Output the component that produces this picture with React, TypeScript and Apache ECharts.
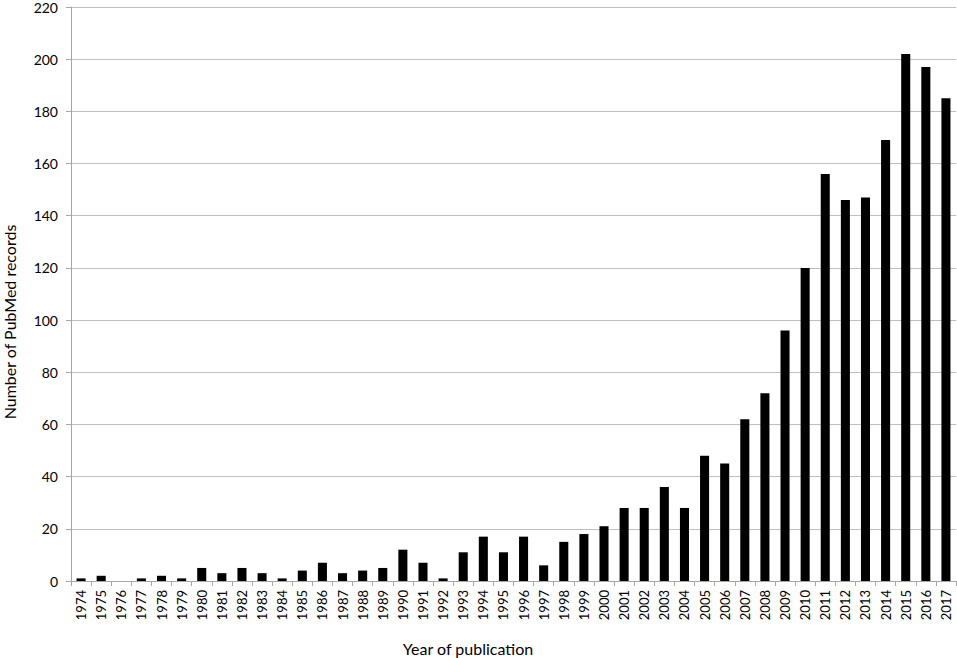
import React, { useEffect, useRef } from "react";
import * as echarts from "echarts";

const years = [
  "1974","1975","1976","1977","1978","1979","1980","1981","1982","1983","1984",
  "1985","1986","1987","1988","1989","1990","1991","1992","1993","1994","1995",
  "1996","1997","1998","1999","2000","2001","2002","2003","2004","2005","2006",
  "2007","2008","2009","2010","2011","2012","2013","2014","2015","2016","2017",
];
const records = [
  1, 2, 0, 1, 2, 1, 5, 3, 5, 3, 1,
  4, 7, 3, 4, 5, 12, 7, 1, 11, 17, 11,
  17, 6, 15, 18, 21, 28, 28, 36, 28, 48, 45,
  62, 72, 96, 120, 156, 146, 147, 169, 202, 197, 185,
];
const yMin = 0;
const yMax = 220;
const yStep = 20;
const xTitle = "Year of publication";
const yTitle = "Number of PubMed records";

const FONT = "Lato, 'Open Sans', sans-serif";

export default function App() {
  const ref = useRef<HTMLDivElement>(null);
  useEffect(() => {
    if (!ref.current) return;
    const chart = echarts.init(ref.current, null, { renderer: "svg" });
    chart.setOption({
      animation: false,
      backgroundColor: "#ffffff",
      grid: {
        left: 71,
        right: 1,
        top: 7,
        bottom: 77,
        containLabel: false,
        outerBoundsMode: "none",
      },
      graphic: [
        {
          type: "text",
          x: 9,
          y: 322,
          rotation: Math.PI / 2,
          style: {
            text: yTitle,
            fontFamily: FONT,
            fontSize: 16,
            fill: "#000",
            align: "center",
            verticalAlign: "middle",
          },
        },
        {
          type: "text",
          x: 468,
          y: 648,
          style: {
            text: xTitle,
            fontFamily: FONT,
            fontSize: 16,
            fill: "#000",
            align: "center",
            verticalAlign: "middle",
          },
        },
      ],
      xAxis: {
        type: "category",
        data: years,
        axisLine: { lineStyle: { color: "#a6a6a6", width: 1 } },
        axisTick: { show: true, alignWithLabel: false, length: 5, lineStyle: { color: "#a6a6a6" } },
        axisLabel: {
          interval: 0,
          rotate: 90,
          margin: 9,
          fontFamily: FONT,
          fontSize: 13,
          color: "#000",
        },
      },
      yAxis: {
        type: "value",
        min: yMin,
        max: yMax,
        interval: yStep,
        axisLine: { show: true, lineStyle: { color: "#a6a6a6", width: 1 } },
        axisTick: { show: true, length: 5, lineStyle: { color: "#a6a6a6" } },
        splitLine: { show: true, lineStyle: { color: "#bfbfbf", width: 1 } },
        axisLabel: { margin: 13, fontFamily: FONT, fontSize: 14, color: "#000" },
      },
      series: [
        {
          type: "bar",
          data: records,
          barWidth: "45%",
          itemStyle: { color: "#000000" },
        },
      ],
    });
    return () => chart.dispose();
  }, []);
  return (
    <div
      ref={ref}
      style={{ position: "fixed", left: 0, top: 0, width: 957, height: 658, background: "#fff" }}
    />
  );
}
